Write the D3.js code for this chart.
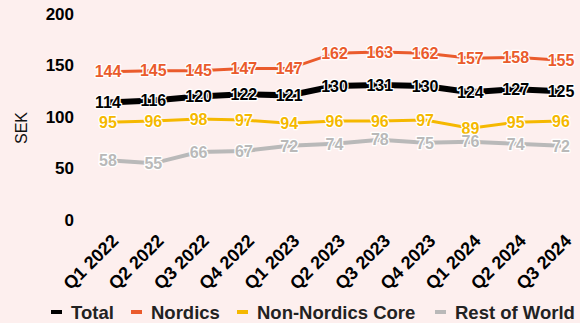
<!DOCTYPE html>
<html>
<head>
<meta charset="utf-8">
<script src="https://cdn.jsdelivr.net/npm/d3@7"></script>
<style>
  body { margin: 0; background: #fdefee; }
  svg { display: block; font-family: "Liberation Sans", Arial, sans-serif; }
</style>
</head>
<body>
<svg id="chart" width="580" height="323"></svg>
<script>
const quarters = ["Q1 2022","Q2 2022","Q3 2022","Q4 2022","Q1 2023","Q2 2023","Q3 2023","Q4 2023","Q1 2024","Q2 2024","Q3 2024"];
const total = [114,116,120,122,121,130,131,130,124,127,125];
const nordics = [144,145,145,147,147,162,163,162,157,158,155];
const nonNordics = [95,96,98,97,94,96,96,97,89,95,96];
const restOfWorld = [58,55,66,67,72,74,78,75,76,74,72];
const yTicks = [0,50,100,150,200];

const series = [
  {name: "Total", values: total, color: "#000000", width: 6},
  {name: "Nordics", values: nordics, color: "#ea5b2c", width: 3},
  {name: "Non-Nordics Core", values: nonNordics, color: "#f5b800", width: 3},
  {name: "Rest of World", values: restOfWorld, color: "#b9b9b9", width: 4}
];

const svg = d3.select("#chart");

const x = d3.scalePoint().domain(quarters).range([108, 561]);
const y = d3.scaleLinear().domain([0, 200]).range([220, 14]);

// y axis
const yAxis = svg.append("g")
  .attr("transform", "translate(74,0)")
  .call(d3.axisLeft(y).tickValues(yTicks).tickSize(0).tickPadding(0));
yAxis.select(".domain").remove();
yAxis.selectAll("text")
  .attr("font-size", 17)
  .attr("font-weight", "bold")
  .attr("fill", "#000")
  .attr("font-family", "Liberation Sans, Arial, sans-serif");

svg.append("text")
  .attr("transform", "translate(27,128) rotate(-90)")
  .attr("text-anchor", "middle")
  .attr("font-size", 16)
  .attr("fill", "#111")
  .text("SEK");

// x axis
const xAxis = svg.append("g")
  .attr("transform", "translate(0,228)")
  .call(d3.axisBottom(x).tickSize(0).tickPadding(0));
xAxis.select(".domain").remove();
xAxis.selectAll("text")
  .attr("font-size", 18)
  .attr("font-weight", "bold")
  .attr("fill", "#000")
  .attr("font-family", "Liberation Sans, Arial, sans-serif")
  .attr("text-anchor", "end")
  .attr("y", 0)
  .attr("dy", 0)
  .attr("transform", "translate(11,14) rotate(-45)");

const line = d3.line().x((d, i) => x(quarters[i])).y(d => y(d));

// lines
series.slice().reverse().forEach(s => {
  svg.append("path")
    .datum(s.values)
    .attr("fill", "none")
    .attr("stroke", s.color)
    .attr("stroke-width", s.width)
    .attr("d", line);
});

// labels
series.forEach(s => {
  svg.append("g")
    .selectAll("text")
    .data(s.values)
    .join("text")
    .attr("x", (d, i) => x(quarters[i]))
    .attr("y", d => y(d))
    .attr("dy", "0.36em")
    .attr("text-anchor", "middle")
    .attr("font-size", 16)
    .attr("font-weight", "bold")
    .attr("fill", s.color)
    .attr("stroke", "#fff")
    .attr("stroke-width", 2.5)
    .attr("stroke-linejoin", "round")
    .attr("paint-order", "stroke")
    .text(d => d);
});

// legend
const legendX = [51, 131, 237, 435];
const legend = svg.append("g");
series.forEach((s, i) => {
  const g = legend.append("g").attr("transform", `translate(${legendX[i]},312)`);
  g.append("line")
    .attr("x1", 0).attr("x2", 11)
    .attr("stroke", s.color)
    .attr("stroke-width", 4);
  g.append("text")
    .attr("x", 20)
    .attr("dy", "0.36em")
    .attr("font-size", 18.5)
    .attr("font-weight", "bold")
    .attr("fill", "#222")
    .text(s.name);
});
</script>
</body>
</html>
